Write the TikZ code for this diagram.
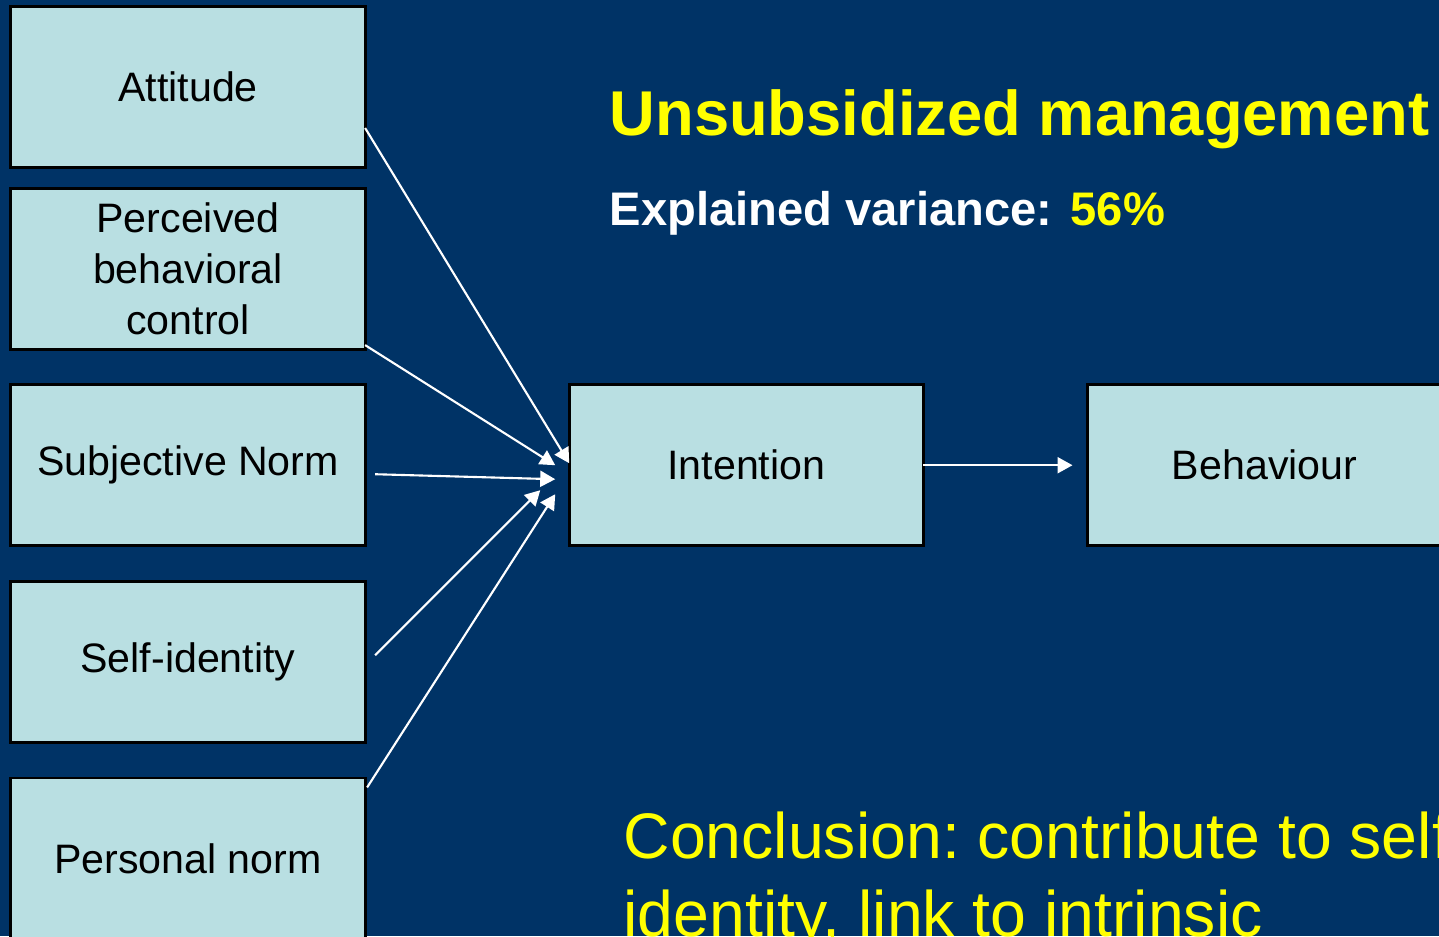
\documentclass[tikz,border=0pt]{standalone}
\usepackage{fontspec}
\setmainfont{Liberation Sans}
\usetikzlibrary{positioning,calc,arrows.meta}
\definecolor{navy}{HTML}{003366}
\definecolor{paleblue}{HTML}{B9DFE2}
\definecolor{hiyellow}{HTML}{FFFF00}
\frenchspacing

\begin{document}
\begin{tikzpicture}[x=0.01cm, y=-0.01cm,
  factor/.style={draw=black, line width=0.8pt, fill=paleblue,
    minimum width=3.54cm, minimum height=1.61cm, inner sep=0pt,
    outer sep=0pt, align=center, font=\fontsize{11.7}{14.5}\selectfont},
  link/.style={draw=white, line width=0.6pt,
    -{Triangle[length=0.15cm,width=0.16cm]}},
  label/.style={anchor=base west, inner sep=0pt}]
  % Background
  \fill[navy] (0,0) rectangle (1439,936);
  \useasboundingbox (0,0) rectangle (1439,936);
  \clip (0,0) rectangle (1439,936);
  % Define nodes
  \node[factor] (att) at (188,87) {Attitude};
  \node[factor, below=0.21cm of att] (pbc) {Perceived\\behavioral\\control};
  \node[factor, below=0.35cm of pbc] (subj) {Subjective Norm};
  \node[factor, below=0.36cm of subj] (self) {Self-identity};
  \node[factor, below=0.35cm of self] (pers) {Personal norm};
  \node[factor, right=2.04cm of subj] (int) {Intention};
  \node[factor, right=1.64cm of int] (beh) {Behaviour};
  % Texts
  \node[label, text=hiyellow, font=\fontsize{18}{22}\selectfont\bfseries]
    (title) at (609,135) {Unsubsidized management};
  \node[label, text=white, font=\fontsize{13.4}{16}\selectfont\bfseries]
    (expl) at (609,225) {Explained variance:};
  \node[label, text=hiyellow, font=\fontsize{13.4}{16}\selectfont\bfseries]
    (var) at (1070,225) {56\%};
  \node[label, text=hiyellow, font=\fontsize{18.3}{22}\selectfont]
    (concl) at (623,858) {Conclusion: contribute to self};
  \node[label, text=hiyellow, font=\fontsize{18.3}{22}\selectfont]
    (concl2) at (623,936) {identity, link to intrinsic};
  % Define edges
  \draw[link] ($(att.east)+(0,41)$) -- ($(int.west)+(0,-2)$);
  \draw[link] ($(pbc.east)+(0,76)$) -- ($(int.west)+(-14,0)$);
  \draw[link] ($(subj.east)+(10,9)$) -- ($(int.west)+(-14,14)$);
  \draw[link] ($(self.east)+(10,-7)$) -- ($(int.west)+(-29,25)$);
  \draw[link] ($(pers.east)+(2,-71)$) -- ($(int.west)+(-14,29)$);
  \draw[link] (int.east) -- ($(beh.west)+(-15,0)$);
\end{tikzpicture}
\end{document}
